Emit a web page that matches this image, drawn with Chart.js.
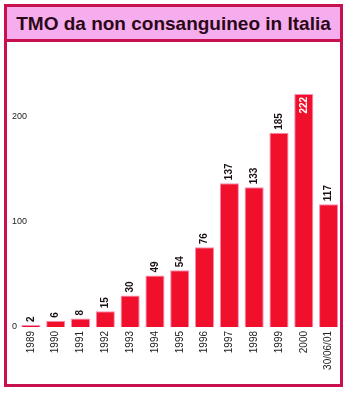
<!DOCTYPE html>
<html>
<head>
<meta charset="utf-8">
<script src="https://cdn.jsdelivr.net/npm/chart.js@4"></script>
<style>
    body { margin: 0; background: #fff; font-family: 'Liberation Sans', Arial, sans-serif; }
    #frame {
        position: absolute; left: 4px; top: 4px; width: 339px; height: 383px;
        box-sizing: border-box; border: 3px solid #c8104e;
    }
    #title {
        height: 32px; line-height: 33px; background: #f6adee; border-bottom: 3px solid #c8104e;
        text-align: center; font-weight: bold; font-size: 19px; color: #2a0818;
    }
    #chart-box { position: absolute; left: 0; top: 0; width: 349px; height: 393px; z-index: 1; }
</style>
</head>
<body>
<div id="frame"><div id="title">TMO da non consanguineo in Italia</div></div>
<div id="chart-box"><canvas id="tmo-chart" width="349" height="393"></canvas></div>
<script>
const years = ['1989', '1990', '1991', '1992', '1993', '1994', '1995', '1996', '1997', '1998', '1999', '2000', '30/06/01'];
const transplants = [2, 6, 8, 15, 30, 49, 54, 76, 137, 133, 185, 222, 117];
const yTicks = [0, 100, 200];

const ctx = document.getElementById('tmo-chart').getContext('2d');

const valueLabels = {
    id: 'valueLabels',
    afterDatasetsDraw(chart) {
        const c = chart.ctx;
        const bars = chart.getDatasetMeta(0).data;
        c.save();
        c.font = 'bold 10px "Liberation Sans", Arial, sans-serif';
        c.textBaseline = 'middle';
        bars.forEach((bar, i) => {
            const value = transplants[i];
            c.save();
            if (value > 200) {
                c.translate(bar.x, bar.y + 3);
                c.rotate(-Math.PI / 2);
                c.textAlign = 'right';
                c.fillStyle = '#ffffff';
            } else {
                c.translate(bar.x, bar.y - 3);
                c.rotate(-Math.PI / 2);
                c.textAlign = 'left';
                c.fillStyle = '#1a1014';
            }
            c.fillText(String(value), 0, 0);
            c.restore();
        });
        c.restore();
    }
};

new Chart(ctx, {
    type: 'bar',
    data: {
        labels: years,
        datasets: [{
            data: transplants,
            backgroundColor: '#f0102c',
            borderColor: '#f78ab8',
            borderWidth: 1,
            categoryPercentage: 1,
            barPercentage: 0.77
        }]
    },
    options: {
        responsive: false,
        animation: false,
        layout: { padding: { top: 75, left: 12, right: 8, bottom: 0 } },
        plugins: {
            legend: { display: false },
            tooltip: { enabled: false }
        },
        scales: {
            x: {
                grid: { display: false, drawTicks: false },
                border: { display: false },
                ticks: {
                    minRotation: 90,
                    maxRotation: 90,
                    padding: 4,
                    color: '#222',
                    font: { family: '"Liberation Sans", Arial, sans-serif', size: 10 }
                },
                afterFit: scale => { scale.height = 66; }
            },
            y: {
                min: 0,
                max: 240,
                grid: { display: false, drawTicks: false },
                border: { display: false },
                ticks: {
                    stepSize: 100,
                    mirror: true,
                    padding: -6.5,
                    color: '#222',
                    font: { family: '"Liberation Sans", Arial, sans-serif', size: 9 }
                },
                afterBuildTicks: scale => {
                    scale.ticks = yTicks.map(v => ({ value: v }));
                },
                afterFit: scale => { scale.width = 6.5; }
            }
        }
    },
    plugins: [valueLabels]
});
</script>
</body>
</html>
